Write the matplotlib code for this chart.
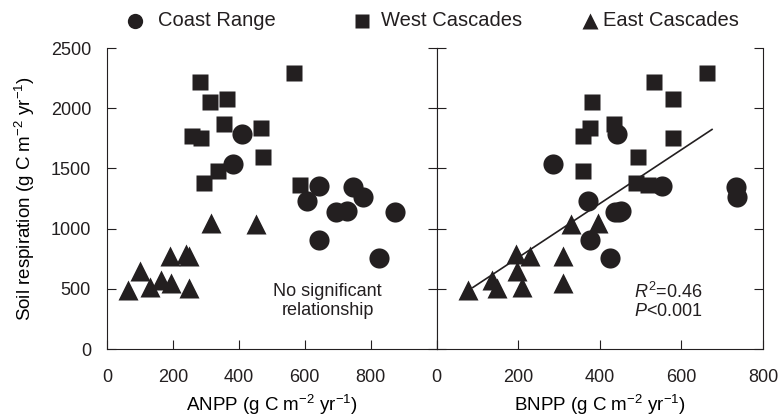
import matplotlib as mpl
mpl.use("Agg")
import matplotlib.pyplot as plt
from matplotlib.lines import Line2D
import numpy as np

plt.rcParams['font.family'] = ['Liberation Sans', 'DejaVu Sans']
plt.rcParams['mathtext.fontset'] = 'custom'
plt.rcParams['mathtext.rm'] = 'Liberation Sans'
plt.rcParams['mathtext.it'] = 'Liberation Sans:italic'

# soil respiration (shared y) and production for each site group
coast_rs = [1785, 1535, 1355, 1350, 1230, 1265, 1140, 1150, 1140, 905, 759]
coast_anpp = [410, 382, 644, 747, 608, 777, 696, 729, 873, 644, 825]
coast_bnpp = [443, 285, 552, 734, 370, 736, 438, 452, 446, 376, 426]

west_rs = [2290, 2215, 2077, 2054, 1869, 1840, 1769, 1755, 1592, 1480, 1376, 1365]
west_anpp = [568, 283, 365, 311, 356, 467, 258, 286, 474, 338, 294, 586]
west_bnpp = [663, 532, 580, 382, 434, 377, 360, 580, 493, 360, 489, 518]

east_rs = [1050, 1040, 790, 770, 775, 650, 570, 551, 512, 505, 490]
east_anpp = [316, 452, 239, 190, 250, 100, 165, 195, 130, 248, 64]
east_bnpp = [396, 329, 194, 229, 311, 197, 136, 311, 210, 148, 77]

group_names = ['Coast Range', 'West Cascades', 'East Cascades']

# regression of soil respiration on BNPP
fit_slope = 2.24
fit_intercept = 312
fit_range = [89, 675]

ink = '#231f20'
fs = 13

fig = plt.figure(figsize=(7.79, 4.18), dpi=100)
ax1 = fig.add_axes([0.1374, 0.165, 0.4230, 0.72])
ax2 = fig.add_axes([0.5604, 0.165, 0.4191, 0.72])

groups = [
    (coast_rs, coast_anpp, coast_bnpp, 'o', 14.5),
    (west_rs, west_anpp, west_bnpp, 's', 11),
    (east_rs, east_anpp, east_bnpp, '^', 14),
]
for rs, an, bn, m, ms in groups:
    ax1.plot(an, rs, m, color=ink, ms=ms, mec='none', ls='none')
    ax2.plot(bn, rs, m, color=ink, ms=ms, mec='none', ls='none')

xf = np.array(fit_range)
ax2.plot(xf, fit_slope * xf + fit_intercept, color=ink, lw=1.2)

for ax in (ax1, ax2):
    ax.set_ylim(0, 2500)
    ax.set_yticks([0, 500, 1000, 1500, 2000, 2500])
    ax.tick_params(direction='in', length=6.5, width=0.8, colors=ink,
                   labelsize=fs, left=True, right=True, top=False)
    ax.tick_params(axis='x', pad=14.5)
    ax.tick_params(axis='y', pad=11.5)
    for s in ax.spines.values():
        s.set_linewidth(0.8)
        s.set_color(ink)
    ax.spines['top'].set_visible(False)

ax1.set_xlim(0, 1000)
ax1.set_xticks([0, 200, 400, 600, 800, 1000])
ax1.set_xticklabels(['0', '200', '400', '600', '800', ''])
ax2.set_xlim(0, 800)
ax2.set_xticks([0, 200, 400, 600, 800])
ax2.tick_params(labelleft=False)

ax1.set_ylabel('Soil respiration (g C m$^{-2}$ yr$^{-1}$)', fontsize=13.5, labelpad=10)
ax1.set_xlabel('ANPP (g C m$^{-2}$ yr$^{-1}$)', fontsize=13.5, labelpad=5)
ax2.set_xlabel('BNPP (g C m$^{-2}$ yr$^{-1}$)', fontsize=13.5, labelpad=5)

ax1.text(670, 400, 'No significant\nrelationship', ha='center', va='center',
         fontsize=13, color=ink, linespacing=1.1)
ax2.text(485, 400, '$R^2$=0.46\n$P$<0.001', ha='left', va='center',
         fontsize=13, color=ink, linespacing=1.1)

# legend row across the top, laid out by hand
leg_marker_x = [135 / 779, 362 / 779, 590 / 779]
leg_text_x = [158 / 779, 381 / 779, 603 / 779]
leg_y = 0.95
leg_styles = [('o', 11), ('s', 10), ('^', 11)]
for name, mx, tx, (m, ms) in zip(group_names, leg_marker_x, leg_text_x, leg_styles):
    fig.add_artist(Line2D([mx], [leg_y], marker=m, ms=ms, color=ink, mec='none',
                          ls='none', transform=fig.transFigure))
    fig.text(tx, leg_y, name, ha='left', va='center', fontsize=14.5, color=ink)

fig.savefig('out.png', dpi=100)
